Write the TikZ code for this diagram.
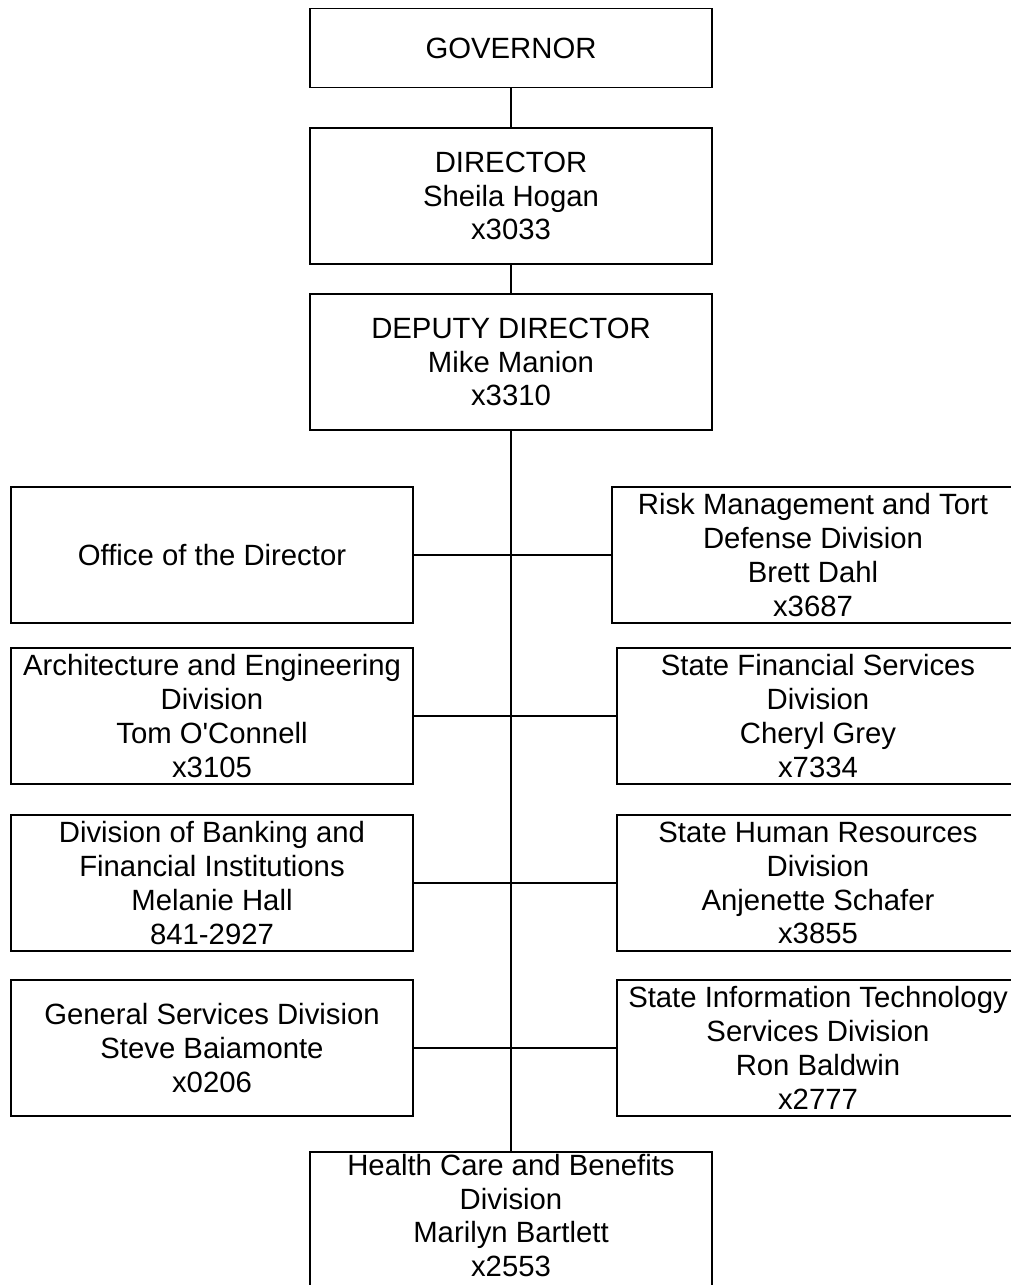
\documentclass[tikz,border=0pt]{standalone}
\usepackage{fontspec}
\setmainfont{Liberation Sans}[Ligatures=TeXOff]
\usetikzlibrary{positioning}

\begin{document}
\begin{tikzpicture}[
    x=1pt, y=-1pt,
    every node/.style={font=\fontsize{29.3}{33.9}\selectfont},
    unit/.style={rectangle, draw, line width=1.8pt, minimum width=402pt, minimum height=136pt, inner sep=2pt, align=center},
    topunit/.style={unit, minimum height=79pt},
    link/.style={line width=1.8pt}
    ]

    % Marco
    \useasboundingbox (0,0) rectangle (1011,1285);
    \clip (0,0) rectangle (1011,1285);

    % Cadena de mando
    \node[topunit] (Governor) at (511,48) {GOVERNOR};
    \node[unit] (Director) at (511,196) {DIRECTOR\\Sheila Hogan\\x3033};
    \node[unit] (Deputy) at (511,362) {DEPUTY DIRECTOR\\Mike Manion\\x3310};

    % Columna izquierda
    \node[unit] (Office) at (212,555) {Office of the Director};
    \node[unit] (Architecture) at (212,716) {Architecture and Engineering\\Division\\Tom O'Connell\\x3105};
    \node[unit] (Banking) at (212,883) {Division of Banking and\\Financial Institutions\\Melanie Hall\\841-2927};
    \node[unit] (General) at (212,1048) {General Services Division\\Steve Baiamonte\\x0206};

    % Columna derecha
    \node[unit] (Risk) at (813,555) {Risk Management and Tort\\Defense Division\\Brett Dahl\\x3687};
    \node[unit] (Financial) at (818,716) {State Financial Services\\Division\\Cheryl Grey\\x7334};
    \node[unit] (Human) at (818,883) {State Human Resources\\Division\\Anjenette Schafer\\x3855};
    \node[unit] (InfoTech) at (818,1048) {State Information Technology\\Services Division\\Ron Baldwin\\x2777};

    % Abajo (cortado por el borde)
    \node[unit, minimum height=0pt, text depth=20pt, anchor=north] (Health) at (511,1151) {Health Care and Benefits\\Division\\Marilyn Bartlett\\x2553};

    % Conexiones
    \draw[link] (Governor) -- (Director);
    \draw[link] (Director) -- (Deputy);
    \draw[link] (Deputy) -- (Health);
    \draw[link] (Office) -- (Risk);
    \draw[link] (Architecture) -- (Financial);
    \draw[link] (Banking) -- (Human);
    \draw[link] (General) -- (InfoTech);

\end{tikzpicture}
\end{document}
